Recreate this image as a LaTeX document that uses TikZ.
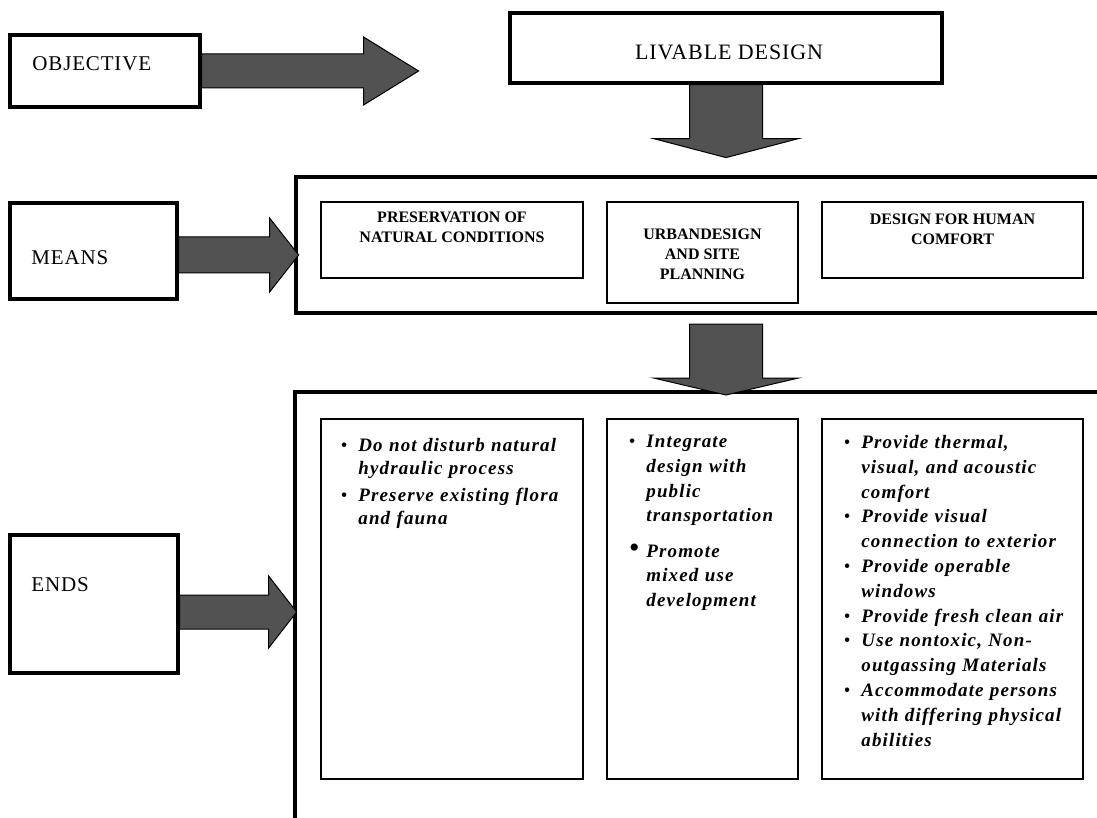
\documentclass[tikz,border=0pt]{standalone}
\usepackage{fontspec}
\setmainfont{Liberation Serif}
\newfontfamily\capsfont[LetterSpace=4]{Liberation Serif}
\newfontfamily\listfont[LetterSpace=6]{Liberation Serif}
\usetikzlibrary{calc}
\def\bul{\leavevmode\llap{\mdseries\upshape\textbullet\hspace{5.5pt}}}
\def\bigbul{\leavevmode\llap{\mdseries\upshape{\fontsize{15}{15}\selectfont\textbullet}\hspace{3.4pt}}}

\begin{document}
\begin{tikzpicture}[x=0.5pt, y=-0.5pt,
	thickbox/.style={draw, line width=1.6pt, inner sep=0pt},
	thinbox/.style={draw, line width=0.6pt, inner sep=0pt},
	container/.style={line width=2pt},
	capslabel/.style={font={\capsfont\fontsize{10.5}{12}\selectfont}, inner sep=0pt},
	titletext/.style={font={\bfseries\fontsize{8}{10}\selectfont}, align=center, inner sep=0pt},
	listtext/.style={font={\listfont\bfseries\itshape\fontsize{9.5}{12.4}\selectfont}, align=left, inner sep=0pt, anchor=north west},
	blockarrow/.style={draw=black, line width=0.5pt, fill=black!68}]
			%%%%% START %%%%%
			
			\useasboundingbox (0,0) rectangle (1097,818);
			\clip (0,0) rectangle (1097,818);
			
			% left column
			\node[thickbox, minimum width=95pt, minimum height=36pt] (obj) at (105,71) {};
			\node[capslabel, anchor=west] (objlabel) at (32,64) {OBJECTIVE};
			\node[thickbox, minimum width=83.5pt, minimum height=48pt] (means) at (93.5,251) {};
			\node[capslabel, anchor=west] (meanslabel) at (31,258) {MEANS};
			\node[thickbox, minimum width=84pt, minimum height=69pt] (ends) at (94,604) {};
			\node[capslabel, anchor=west] (endslabel) at (31,585) {ENDS};
			
			% objective
			\node[thickbox, minimum width=216pt, minimum height=35pt] (livable) at (726,48) {};
			\node[capslabel, font={\capsfont\fontsize{11}{12}\selectfont}] (livlabel) at (729,52) {LIVABLE DESIGN};
			
			% means
			\draw[container] (1110,177) -- (296,177) -- (296,313) -- (1110,313);
			\node[thinbox, minimum width=131pt, minimum height=38pt] (p1) at (452,240) {};
			\node[thinbox, minimum width=95.5pt, minimum height=50.5pt] (p2) at (702.5,252.5) {};
			\node[thinbox, minimum width=130.5pt, minimum height=38pt] (p3) at (952.5,240) {};
			\node[titletext] (p1label) at (452,227) {PRESERVATION OF\\NATURAL CONDITIONS};
			\node[titletext] (p2label) at (702.5,254) {URBANDESIGN\\AND SITE\\PLANNING};
			\node[titletext] (p3label) at (952.5,229) {DESIGN FOR HUMAN\\COMFORT};
			
			% ends
			\draw[container] (1110,392) -- (295,392) -- (295,830);
			\node[thinbox, minimum width=131pt, minimum height=180pt] (e1) at (452,599) {};
			\node[thinbox, minimum width=95.5pt, minimum height=180pt] (e2) at (702.5,599) {};
			\node[thinbox, minimum width=130.5pt, minimum height=180pt] (e3) at (952.5,599) {};
			
			\node[listtext, text width=110pt, font={\listfont\bfseries\itshape\fontsize{9.5}{11.5}\selectfont}] (e1list) at (358,438)
				{\bul Do not disturb natural\\hydraulic process\\[2pt]
				 \bul Preserve existing flora\\and fauna};
			\node[listtext, text width=74pt, font={\listfont\bfseries\itshape\fontsize{9.5}{12.3}\selectfont}] (e2list) at (646,435)
				{\bul Integrate\\design with\\public\\transportation\\[5.5pt]
				 \bigbul Promote\\mixed use\\development};
			\node[listtext, text width=110pt] (e3list) at (861,435)
				{\bul Provide thermal,\\visual, and acoustic\\comfort\\
				 \bul Provide visual\\connection to exterior\\
				 \bul Provide operable\\windows\\
				 \bul Provide fresh clean air\\
				 \bul Use nontoxic, Non-\\outgassing Materials\\
				 \bul Accommodate persons\\with differing physical\\abilities};
			
			% block arrows
			\draw[blockarrow] ($(obj.east)+(0,-17)$) -- ++(162,0) -- ++(0,-17) -- ++(55,34)
				-- ++(-55,34) -- ++(0,-17) -- ++(-162,0) -- cycle;
			\draw[blockarrow] ($(livable.south)+(-36.5,0)$) -- ++(0,54) -- ++(-36,0) -- ++(72.5,19)
				-- ++(72.5,-19) -- ++(-36,0) -- ++(0,-54) -- cycle;
			\draw[blockarrow] ($(means.east)+(0,-14)$) -- ++(91,0) -- ++(0,-19) -- ++(29,37)
				-- ++(-29,37) -- ++(0,-19) -- ++(-91,0) -- cycle;
			\coordinate (meansfoot) at (726,324);
			\draw[blockarrow] ($(meansfoot)+(-36.5,0)$) -- ++(0,54) -- ++(-36,0) -- ++(72.5,17)
				-- ++(72.5,-17) -- ++(-36,0) -- ++(0,-54) -- cycle;
			\draw[blockarrow] ($(ends.east)+(0,-9)$) -- ++(89,0) -- ++(0,-19) -- ++(28,36)
				-- ++(-28,36) -- ++(0,-19) -- ++(-89,0) -- cycle;
			
			%%%%% END %%%%%
\end{tikzpicture}
\end{document}
